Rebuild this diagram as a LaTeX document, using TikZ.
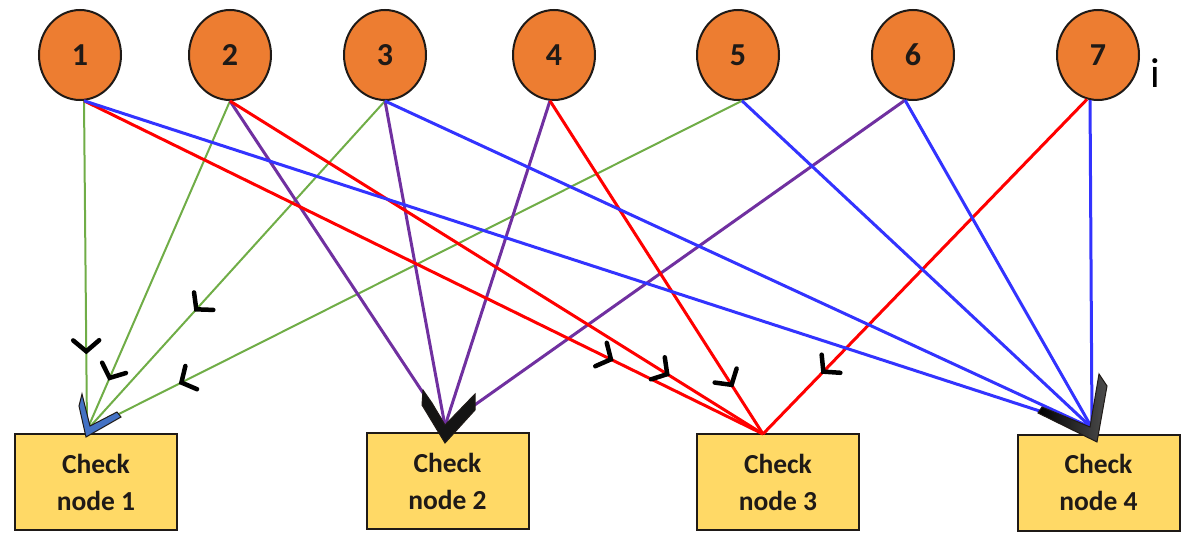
\documentclass[tikz,border=0pt]{standalone}
\usepackage{fontspec}
\setmainfont{Carlito}
\usetikzlibrary{shapes.geometric,arrows.meta,decorations.markings}

\definecolor{nodeorange}{HTML}{ED7D31}
\definecolor{checkyellow}{HTML}{FFD966}
\definecolor{edgegreen}{HTML}{70AD47}
\definecolor{edgered}{HTML}{FF0000}
\definecolor{edgeblue}{HTML}{3333FF}
\definecolor{edgepurple}{HTML}{7030A0}
\definecolor{outline}{HTML}{1F1A17}
\definecolor{tipblue}{HTML}{4472C4}

\tikzset{
  varnode/.style={ellipse, draw=outline, line width=2pt, fill=nodeorange,
    minimum width=82pt, minimum height=90pt, inner sep=0pt,
    font=\fontsize{32}{32}\selectfont\bfseries, text=outline},
  checkbox/.style={rectangle, draw=outline, line width=2pt, fill=checkyellow,
    minimum width=162pt, minimum height=96pt, inner sep=0pt, align=center,
    font=\fontsize{27.5}{37}\selectfont\bfseries, text=outline},
  gedge/.style={edgegreen, line width=2pt},
  redge/.style={edgered, line width=3pt},
  bedge/.style={edgeblue, line width=3pt},
  pedge/.style={edgepurple, line width=3pt},
  markat/.style={postaction={decorate, decoration={markings,
    mark=at position #1 with {\arrow{Straight Barb[color=black, length=11pt, width=26pt, line width=4.5pt, line cap=round]}}}}},
  bigtip/.style={draw=outline, line width=1pt, line join=miter},
}

\begin{document}
\begin{tikzpicture}[x=1pt, y=-1pt]
\useasboundingbox (0,0) rectangle (1195,543);

% variable nodes
\node[varnode] (c1) at (80,55) {1};
\node[varnode] (c2) at (230,55) {2};
\node[varnode] (c3) at (385,55) {3};
\node[varnode] (c4) at (554,55) {4};
\node[varnode] (c5) at (738,55) {5};
\node[varnode] (c6) at (913,55) {6};
\node[varnode] (c7) at (1098,55) {7};
\node[anchor=base, font=\fontsize{42}{42}\selectfont, text=black] (idx) at (1155,88) {i};

% check nodes
\node[checkbox] (b1) at (96,482) {Check\\node 1};
\node[checkbox] (b2) at (447.5,481) {Check\\node 2};
\node[checkbox] (b3) at (778,482) {Check\\node 3};
\node[checkbox] (b4) at (1098.5,482.5) {Check\\node 4};

% meeting points above the check nodes
\coordinate (k1) at (87,430);
\coordinate (k2) at (445,426);
\coordinate (k3) at (763,434);
\coordinate (k4) at (1092,428);

% edges into check node 1
\draw[gedge, markat=0.77] (c1.-85) -- (k1);
\draw[gedge, markat=0.85] (c2.south) -- (k1);
\draw[gedge, markat=0.64] (c3.south) -- (k1);
\draw[gedge, markat=0.86] (c5.-85) -- (k1);

% edges into check node 2
\draw[pedge] (c2.south) -- (k2);
\draw[pedge] (c3.south) -- (k2);
\draw[pedge] (c4.-95) -- (k2);
\draw[pedge] (c6.-100) -- (k2);

% edges into check node 3
\draw[redge, markat=0.78] (c1.-85) -- (k3);
\draw[redge, markat=0.825] (c2.south) -- (k3);
\draw[redge, markat=0.86] (c4.-95) -- (k3);
\draw[redge, markat=0.82] (c7.-104) -- (k3);

% edges into check node 4
\draw[bedge] (c1.-85) -- (k4);
\draw[bedge] (c3.south) -- (k4);
\draw[bedge] (c5.-85) -- (k4);
\draw[bedge] (c6.-100) -- (k4);
\draw[bedge] (c7.-100) -- (k4);

% large arrow heads at the check nodes
\filldraw[bigtip, fill=tipblue] (86,437) -- (79,406) -- (82,394) -- (90,426)
  -- (117,412) -- (121,417) -- cycle;
\filldraw[bigtip, fill=black!92] (445,443) -- (422,405) -- (423,390) -- (432,403)
  -- (445,425) -- (475,394) -- (475,410) -- cycle;
\shadedraw[bigtip, left color=black, right color=black!70] (1097,442) -- (1038,413)
  -- (1042,407) -- (1090,427) -- (1099,374) -- (1107,386) -- cycle;
\end{tikzpicture}
\end{document}
